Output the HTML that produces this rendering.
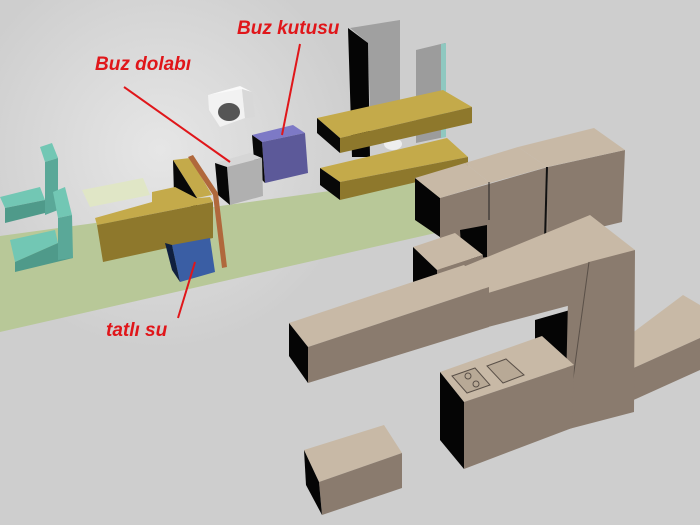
<!DOCTYPE html>
<html><head><meta charset="utf-8"><style>
html,body{margin:0;padding:0;width:700px;height:525px;overflow:hidden;background:#cfcfcf}
svg{display:block}
text{font-family:"Liberation Sans",sans-serif;font-weight:bold;font-style:italic;fill:#e0161a}
</style></head><body>
<svg width="700" height="525" viewBox="0 0 700 525" xmlns="http://www.w3.org/2000/svg">
<defs>
<radialGradient id="g" cx="160" cy="150" r="200" gradientUnits="userSpaceOnUse">
<stop offset="0" stop-color="#e6e6e6"/><stop offset="1" stop-color="#cecece"/></radialGradient>
</defs>
<rect width="700" height="525" fill="url(#g)"/>
<polygon points="0,236 440,176 440,232 0,332" fill="#b8c898"/>
<polygon points="350,28 400,20 400,107 370,110 368,43" fill="#a0a0a0"/>
<polygon points="348,28 368,43 370,157 352,157" fill="#050505"/>
<polygon points="416,50 445,43 445,137 416,143" fill="#9c9c9c"/>
<polygon points="441,44 446,43 446,137 441,138" fill="#8fc8c0"/>
<ellipse cx="393" cy="144" rx="9" ry="6" fill="#eee"/>
<polygon points="317,118 443,90 472,107 340,138" fill="#c4aa4a"/>
<polygon points="340,138 472,107 472,123 340,153" fill="#8e782c"/>
<polygon points="317,118 340,138 340,153 317,133" fill="#080808"/>
<polygon points="320,168 447,138 468,157 340,182" fill="#c4aa4a"/>
<polygon points="340,182 468,157 468,170 340,200" fill="#8e782c"/>
<polygon points="320,168 340,182 340,200 320,185" fill="#080808"/>
<!-- microwave -->
<polygon points="208,95 240,86 252,92 242,90" fill="#fafafa"/>
<polygon points="208,95 242,89 245,118 220,127 209,110" fill="#f2f2f2"/>
<polygon points="242,89 252,92 255,117 245,118" fill="#d8d8d8"/>
<ellipse cx="229" cy="112" rx="11" ry="9" fill="#555"/>
<polygon points="252,135 293,125 305,133 262,142" fill="#7d79c6"/>
<polygon points="262,142 305,133 308,173 265,183" fill="#5c5999"/>
<polygon points="252,135 262,142 265,183 255,172" fill="#080808"/>
<polygon points="215,163 250,153 262,158 227,167" fill="#d6d6d6"/>
<polygon points="227,167 262,158 263,196 230,205" fill="#b0b0b0"/>
<polygon points="215,163 227,167 230,205 218,195" fill="#080808"/>
<!-- chairs -->
<polygon points="0,197 40,187 45,200 5,208" fill="#72c7b4"/>
<polygon points="5,208 45,200 45,213 5,223" fill="#4f9a8a"/>
<polygon points="40,147 52,143 58,158 45,162" fill="#72c7b4"/>
<polygon points="45,162 58,158 58,210 45,215" fill="#5aa898"/>
<polygon points="10,240 55,230 58,243 15,262" fill="#72c7b4"/>
<polygon points="15,262 58,243 73,258 15,272" fill="#4f9a8a"/>
<polygon points="53,192 65,187 72,215 58,218" fill="#72c7b4"/>
<polygon points="58,218 72,215 73,258 58,260" fill="#5aa898"/>
<polygon points="82,190 143,178 150,195 90,207" fill="#e0e6c6"/>
<!-- desk -->
<polygon points="173,160 190,158 212,195 197,198" fill="#c4aa4a"/>
<polygon points="173,160 197,198 197,210 174,195" fill="#080808"/>
<polygon points="152,192 175,187 200,200 152,205" fill="#c4aa4a"/>
<polygon points="95,218 152,202 210,197 213,202 97,225" fill="#c4aa4a"/>
<polygon points="97,225 213,202 213,238 103,262" fill="#8e782c"/>
<polygon points="188,157 193,155 218,193 227,267 222,268 213,195" fill="#b0683c"/>
<polygon points="172,245 210,238 215,272 180,282" fill="#3a5ea4"/>
<polygon points="165,243 172,245 180,282 172,270" fill="#10203f"/>
<!-- upper cluster -->
<polygon points="548,167 625,150 622,222 547,240" fill="#8a7b6e"/>
<polygon points="440,198 548,167 547,240 489,258 489,290 440,290" fill="#8a7b6e"/>
<polygon points="460,230 487,225 487,257 462,260" fill="#050505"/>
<polygon points="415,178 440,198 440,237 415,220" fill="#050505"/>
<polygon points="415,178 465,163 490,183 440,198" fill="#c8b9a6"/>
<polygon points="465,163 518,147 547,167 490,183" fill="#c8b9a6"/>
<polygon points="518,147 594,128 625,150 547,167" fill="#c8b9a6"/>
<line x1="489" y1="182" x2="489" y2="220" stroke="#222" stroke-width="1"/>
<line x1="547" y1="167" x2="545" y2="240" stroke="#111" stroke-width="2"/>
<polygon points="413,247 455,233 483,255 437,270" fill="#c8b9a6"/>
<polygon points="413,247 437,270 437,290 413,285" fill="#050505"/>
<polygon points="437,270 483,255 483,275 437,290" fill="#8a7b6e"/>
<polygon points="607,352 683,295 700,305 700,338 607,380" fill="#c8b9a6"/>
<polygon points="607,380 700,338 700,370 607,412" fill="#8a7b6e"/>
<polygon points="535,320 570,310 570,360 535,360" fill="#050505"/>
<polygon points="463,267 590,215 635,250 488,293" fill="#c8b9a6"/>
<polygon points="488,293 590,262 590,300 488,327" fill="#8a7b6e"/>
<polygon points="589,262 635,250 634,412 565,430 568,300 589,297" fill="#8a7b6e"/>
<line x1="589" y1="262" x2="566" y2="430" stroke="#5a5048" stroke-width="1"/>
<polygon points="289,323 464,265 489,287 308,347" fill="#c8b9a6"/>
<polygon points="308,347 489,287 489,327 308,383" fill="#8a7b6e"/>
<polygon points="289,323 308,347 308,383 289,356" fill="#050505"/>
<polygon points="440,372 542,336 574,365 464,402" fill="#c8b9a6"/>
<polygon points="464,402 574,365 572,428 464,469" fill="#8a7b6e"/>
<polygon points="440,372 464,402 464,469 440,440" fill="#050505"/>
<polygon points="452,376 475,368 490,385 467,393" fill="#b8a996" stroke="#5a5048" stroke-width="1"/>
<circle cx="468" cy="376" r="3" fill="none" stroke="#5a5048"/>
<circle cx="476" cy="384" r="3" fill="none" stroke="#5a5048"/>
<polygon points="487,366 506,359 524,375 503,383" fill="#b8a996" stroke="#5a5048" stroke-width="1"/>
<polygon points="304,450 384,425 402,453 319,482" fill="#c8b9a6"/>
<polygon points="319,482 402,453 402,488 322,515" fill="#8a7b6e"/>
<polygon points="304,450 319,482 322,515 306,485" fill="#050505"/>
<g stroke="#e0161a" stroke-width="2">
<line x1="300" y1="44" x2="282" y2="135"/>
<line x1="124" y1="87" x2="230" y2="162"/>
<line x1="195" y1="262" x2="178" y2="318"/>
</g>
<text x="237" y="34" font-size="19">Buz kutusu</text>
<text x="95" y="70" font-size="19">Buz dolabı</text>
<text x="106" y="336" font-size="19">tatlı su</text>
</svg>
</body></html>
